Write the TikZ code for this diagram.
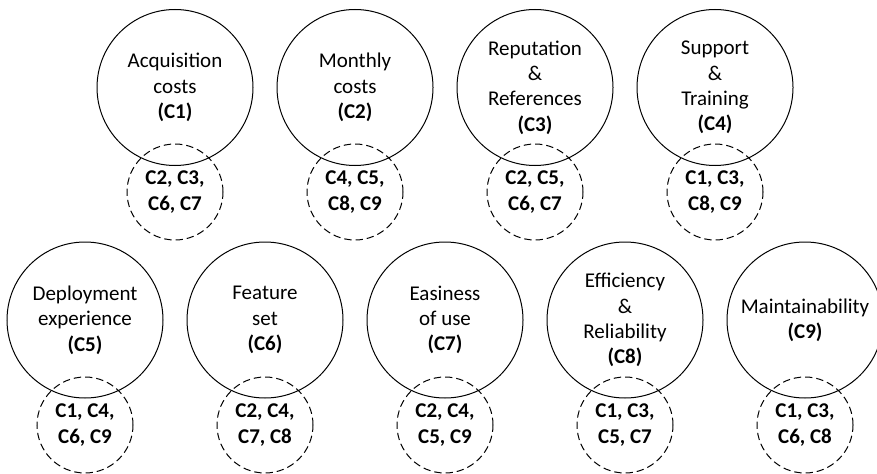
\documentclass[tikz,border=0pt]{standalone}
\usepackage{fontspec}
\setmainfont{Carlito}
\begin{document}
\begin{tikzpicture}[x=0.75pt,y=-0.75pt,
  crit/.style={circle,draw,line width=0.75pt,minimum size=117pt,inner sep=0pt},
  rel/.style={circle,draw,line width=0.75pt,dash pattern=on 5.5pt off 3pt,minimum size=72pt,inner sep=0pt},
  crittext/.style={align=center,font=\fontsize{15.75}{19}\selectfont,inner sep=0pt},
  reltext/.style={align=center,font=\fontsize{15.75}{19}\selectfont\bfseries,inner sep=0pt}]
\useasboundingbox (0,0) rectangle (877,474);

% top row: criteria C1-C4 with their related criteria
\foreach \n/\x/\t/\r in {
  1/175/{Acquisition\\costs\\\textbf{(C1)}}/{C2, C3,\\C6, C7},
  2/355/{Monthly\\costs\\\textbf{(C2)}}/{C4, C5,\\C8, C9},
  3/535/{Reputation\\\&\\References\\\textbf{(C3)}}/{C2, C5,\\C6, C7},
  4/715/{Support\\\&\\Training\\\textbf{(C4)}}/{C1, C3,\\C8, C9}}{
  \node[crit] (c\n) at (\x,87.5) {};
  \node[crittext] (c\n t) at (c\n) {\t};
  \node[rel] (r\n) at (\x,192) {};
  \node[reltext] (r\n t) at (r\n) {\r};
}

% bottom row: criteria C5-C9 with their related criteria
\foreach \n/\x/\t/\r in {
  5/85/{Deployment\\experience\\\textbf{(C5)}}/{C1, C4,\\C6, C9},
  6/265/{Feature\\set\\\textbf{(C6)}}/{C2, C4,\\C7, C8},
  7/445/{Easiness\\of use\\\textbf{(C7)}}/{C2, C4,\\C5, C9},
  8/625/{Efficiency\\\&\\Reliability\\\textbf{(C8)}}/{C1, C3,\\C5, C7},
  9/805/{Maintainability\\\textbf{(C9)}}/{C1, C3,\\C6, C8}}{
  \node[crit] (c\n) at (\x,320) {};
  \node[crittext] (c\n t) at (c\n) {\t};
  \node[rel] (r\n) at (\x,425) {};
  \node[reltext] (r\n t) at (r\n) {\r};
}
\end{tikzpicture}
\end{document}
